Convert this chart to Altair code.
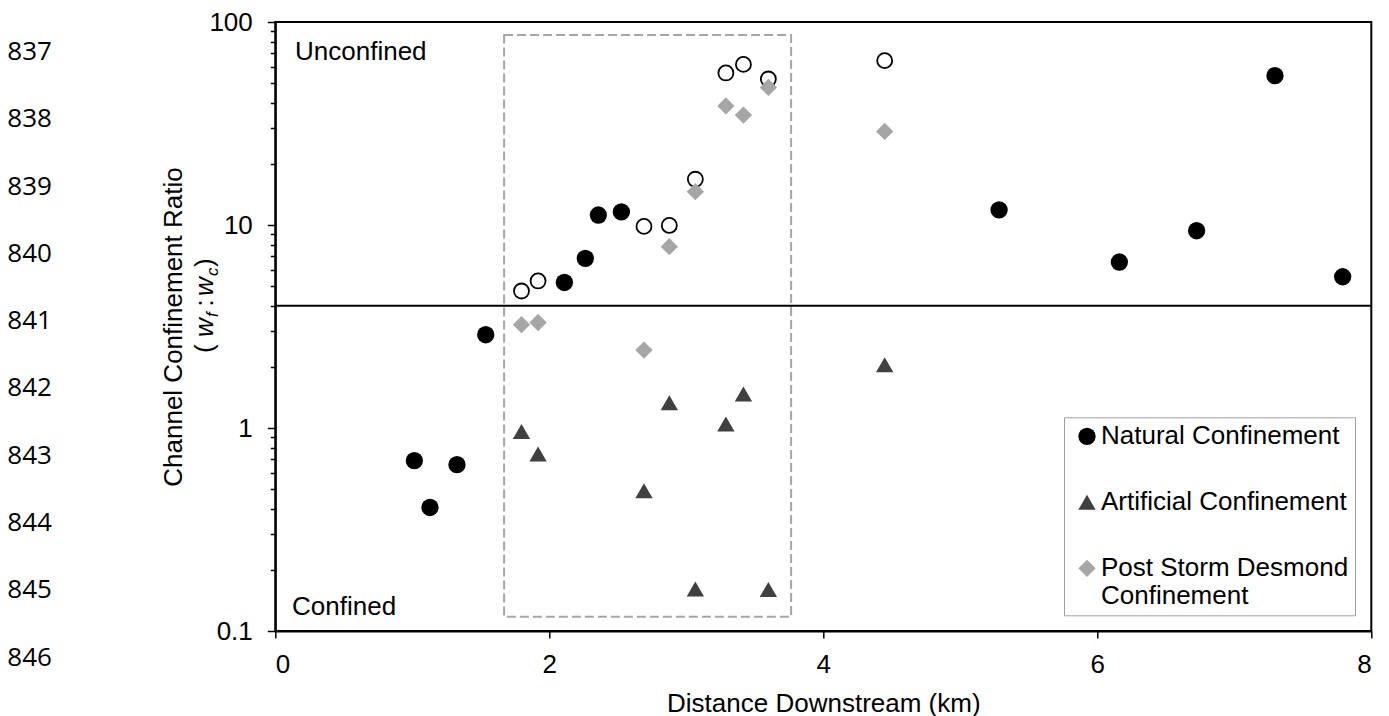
import altair as alt
import pandas as pd

# ---------------- data ----------------
natural_x = [1.015, 1.129, 1.326, 1.536, 2.11, 2.263, 2.358, 2.526, 5.283, 6.161, 6.725, 7.297, 7.791]
natural_y = [0.69, 0.406, 0.66, 2.88, 5.21, 6.85, 11.2, 11.6, 11.86, 6.57, 9.37, 54.4, 5.56]

site_x = [1.797, 1.918, 2.691, 2.876, 3.066, 3.289, 3.417, 3.599, 4.448]
open_y = [4.73, 5.3, 9.84, 9.95, 16.8, 56.1, 61.8, 52.4, 64.5]          # unfilled circles
artificial_y = [0.962, 0.745, 0.491, 1.33, 0.161, 1.047, 1.47, 0.16, 2.05]
post_y = [3.23, 3.31, 2.42, 7.82, 14.6, 38.6, 34.8, 47.6, 28.9]

series_names = ["Natural Confinement", "Artificial Confinement", "Post Storm Desmond Confinement"]
series_colors = ["#000000", "#404040", "#a6a6a6"]
series_shapes = ["circle", "triangle-up", "diamond"]

threshold = [4]
box_x = [1.67, 3.765]
box_y = [0.1176, 86.3]

zone_labels = ["Unconfined", "Confined"]
zone_x = [0.144, 0.122]
zone_y = [70.8, 0.1318]

line_numbers = [837, 838, 839, 840, 841, 842, 843, 844, 845, 846]

x_ticks = [0, 2, 4, 6, 8]
y_ticks = [m * d for d in (0.1, 1, 10) for m in range(1, 10)] + [100]

FONT = "Liberation Sans"

# ---------------- tables ----------------
series_df = pd.concat([
    pd.DataFrame({"x": natural_x, "y": natural_y, "series": series_names[0]}),
    pd.DataFrame({"x": site_x, "y": artificial_y, "series": series_names[1]}),
    pd.DataFrame({"x": site_x, "y": post_y, "series": series_names[2]}),
], ignore_index=True)
open_df = pd.DataFrame({"x": site_x, "y": open_y})
box_df = pd.DataFrame({"x0": [box_x[0]], "x1": [box_x[1]], "y0": [box_y[0]], "y1": [box_y[1]]})
thr_df = pd.DataFrame({"t": threshold})
zone_df = pd.DataFrame({"x": zone_x, "y": zone_y, "label": zone_labels})
ln_df = pd.DataFrame({"n": line_numbers})

xscale = alt.Scale(domain=[0, 8], nice=False, zero=False)
yscale = alt.Scale(type="log", domain=[0.1, 100], nice=False)

major_test = "abs(log(datum.value)/LN10 - round(log(datum.value)/LN10)) < 0.01"

x_axis = alt.Axis(
    values=x_ticks, format="d", grid=False,
    tickSize=7, tickColor="black", tickWidth=1.5,
    domainColor="black", domainWidth=2,
    labelFont=FONT, labelFontSize=26, labelColor="black", labelPadding=13,
    title="Distance Downstream (km)", titleFont=FONT, titleFontSize=26,
    titleFontWeight="normal", titleColor="black",
    titleY=80, titleBaseline="alphabetic",
)
y_axis = alt.Axis(
    values=y_ticks, format="~g", grid=False, labelOverlap=False,
    labelExpr=major_test + " ? datum.label : ''",
    tickSize={"condition": {"test": major_test, "value": 8}, "value": 5},
    tickColor="black", tickWidth=1.5,
    domainColor="black", domainWidth=2,
    labelFont=FONT, labelFontSize=26, labelColor="black", labelPadding=15,
    title="Channel Confinement Ratio", titleFont=FONT, titleFontSize=26,
    titleFontWeight="normal", titleColor="black",
    titleAngle=270, titleX=-93.6, titleY=304.5,
    titleBaseline="alphabetic", titleAlign="center",
)

legend = alt.Legend(
    title=None, orient="none", legendX=788.7, legendY=395.3,
    padding=6, symbolOffset=4, labelOffset=1, rowPadding=40,
    labelFont=FONT, labelFontSize=26, labelColor="black", labelLimit=500,
    strokeColor="#a0a0a0", fillColor="white",
    symbolSize=300, symbolStrokeWidth=0, symbolOpacity=1,
    labelExpr="datum.label == 'Post Storm Desmond Confinement' ? ['Post Storm Desmond', 'Confinement'] : datum.label",
)

box = alt.Chart(box_df).mark_rect(
    fillOpacity=0, stroke="#a6a6a6", strokeWidth=2, strokeDash=[9, 4]
).encode(
    x=alt.X("x0:Q", scale=xscale, axis=x_axis), x2="x1:Q",
    y=alt.Y("y0:Q", scale=yscale, axis=y_axis), y2="y1:Q",
)

rule = alt.Chart(thr_df).mark_rule(color="black", strokeWidth=2).encode(
    y=alt.Y("t:Q", scale=yscale, axis=y_axis)
)

open_pts = alt.Chart(open_df).mark_point(
    shape="circle", filled=False, fill="white", fillOpacity=1,
    stroke="black", strokeWidth=1.8, size=225, opacity=1
).encode(
    x=alt.X("x:Q", scale=xscale, axis=x_axis),
    y=alt.Y("y:Q", scale=yscale, axis=y_axis),
)

pts = alt.Chart(series_df).mark_point(filled=True, opacity=1, size=300, strokeWidth=0).encode(
    x=alt.X("x:Q", scale=xscale, axis=x_axis),
    y=alt.Y("y:Q", scale=yscale, axis=y_axis),
    color=alt.Color("series:N", scale=alt.Scale(domain=series_names, range=series_colors), legend=legend),
    shape=alt.Shape("series:N", scale=alt.Scale(domain=series_names, range=series_shapes), legend=legend),
)

zones = alt.Chart(zone_df).mark_text(
    align="left", baseline="middle", font=FONT, fontSize=26, color="black"
).encode(
    x=alt.X("x:Q", scale=xscale, axis=x_axis),
    y=alt.Y("y:Q", scale=yscale, axis=y_axis),
    text="label:N",
)

inner = alt.layer(box, rule, open_pts, pts, zones)

ln = alt.Chart(ln_df).mark_text(
    align="left", baseline="middle", font="Open Sans", fontSize=26, color="black"
).encode(
    x=alt.value(-268),
    y=alt.Y("n:Q", scale=alt.Scale(domain=[836.554, 845.606], reverse=True, nice=False, zero=False), axis=None),
    text=alt.Text("n:Q", format="d"),
)

# second line of the y-axis title: (w_f : w_c), rotated
title_pieces = [
    ("(", 331, -61.8, 26, "normal"),
    ("w", 315, -61.8, 26, "italic"),
    ("f", 295, -56.8, 17, "italic"),
    (":", 284.5, -61.8, 26, "normal"),
    ("w", 274, -61.8, 26, "italic"),
    ("c", 254, -56.8, 17, "italic"),
    (")", 245, -61.8, 26, "normal"),
]
pieces = [
    alt.Chart(pd.DataFrame({"t": [t]})).mark_text(
        text=t, angle=270, align="left", baseline="alphabetic",
        font=FONT, fontSize=fs, fontStyle=st, color="black"
    ).encode(x=alt.value(px), y=alt.value(py))
    for (t, py, px, fs, st) in title_pieces
]

chart = alt.layer(inner, ln, *pieces).resolve_scale(y="independent").properties(
    width=1096, height=609,
    autosize=alt.AutoSizeParams(type="none"),
    padding={"left": 275.3, "top": 22, "right": 17.7, "bottom": 85},
).configure_view(stroke="black", strokeWidth=2)

chart.save("out.html", embed_options={"renderer": "svg", "actions": False})
